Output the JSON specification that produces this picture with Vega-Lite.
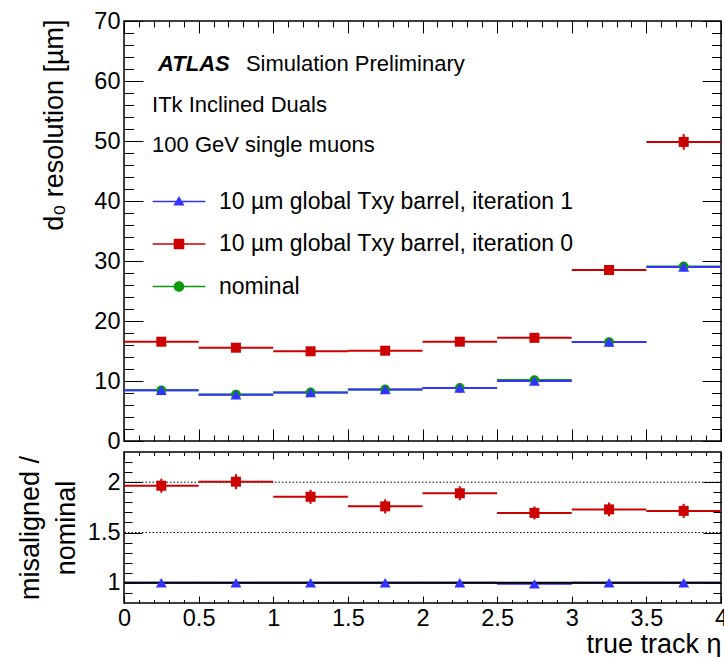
{
  "$schema": "https://vega.github.io/schema/vega-lite/v6.json",
  "background": "white",
  "padding": {"left": 15, "top": 8, "right": 0, "bottom": 0},
  "spacing": 11,
  "bounds": "flush",
  "datasets": {
    "top": [
      {"series": "nominal", "lo_eta": 0, "hi_eta": 0.5, "eta": 0.25, "value": 8.45, "elo": 8.3, "ehi": 8.6},
      {"series": "nominal", "lo_eta": 0.5, "hi_eta": 1, "eta": 0.75, "value": 7.75, "elo": 7.6, "ehi": 7.9},
      {"series": "nominal", "lo_eta": 1, "hi_eta": 1.5, "eta": 1.25, "value": 8.1, "elo": 7.95, "ehi": 8.25},
      {"series": "nominal", "lo_eta": 1.5, "hi_eta": 2, "eta": 1.75, "value": 8.6, "elo": 8.45, "ehi": 8.75},
      {"series": "nominal", "lo_eta": 2, "hi_eta": 2.5, "eta": 2.25, "value": 8.85, "elo": 8.7, "ehi": 9.0},
      {"series": "nominal", "lo_eta": 2.5, "hi_eta": 3, "eta": 2.75, "value": 10.15, "elo": 10.0, "ehi": 10.3},
      {"series": "nominal", "lo_eta": 3, "hi_eta": 3.5, "eta": 3.25, "value": 16.5, "elo": 16.3, "ehi": 16.7},
      {"series": "nominal", "lo_eta": 3.5, "hi_eta": 4, "eta": 3.75, "value": 29.1, "elo": 28.6, "ehi": 29.6},
      {"series": "10 µm global Txy barrel, iteration 1", "lo_eta": 0, "hi_eta": 0.5, "eta": 0.25, "value": 8.45, "elo": 8.3, "ehi": 8.6},
      {"series": "10 µm global Txy barrel, iteration 1", "lo_eta": 0.5, "hi_eta": 1, "eta": 0.75, "value": 7.72, "elo": 7.57, "ehi": 7.87},
      {"series": "10 µm global Txy barrel, iteration 1", "lo_eta": 1, "hi_eta": 1.5, "eta": 1.25, "value": 8.1, "elo": 7.95, "ehi": 8.25},
      {"series": "10 µm global Txy barrel, iteration 1", "lo_eta": 1.5, "hi_eta": 2, "eta": 1.75, "value": 8.57, "elo": 8.42, "ehi": 8.72},
      {"series": "10 µm global Txy barrel, iteration 1", "lo_eta": 2, "hi_eta": 2.5, "eta": 2.25, "value": 8.83, "elo": 8.68, "ehi": 8.98},
      {"series": "10 µm global Txy barrel, iteration 1", "lo_eta": 2.5, "hi_eta": 3, "eta": 2.75, "value": 10.0, "elo": 9.85, "ehi": 10.15},
      {"series": "10 µm global Txy barrel, iteration 1", "lo_eta": 3, "hi_eta": 3.5, "eta": 3.25, "value": 16.5, "elo": 16.3, "ehi": 16.7},
      {"series": "10 µm global Txy barrel, iteration 1", "lo_eta": 3.5, "hi_eta": 4, "eta": 3.75, "value": 29.0, "elo": 28.5, "ehi": 29.5},
      {"series": "10 µm global Txy barrel, iteration 0", "lo_eta": 0, "hi_eta": 0.5, "eta": 0.25, "value": 16.55, "elo": 16.15, "ehi": 16.95},
      {"series": "10 µm global Txy barrel, iteration 0", "lo_eta": 0.5, "hi_eta": 1, "eta": 0.75, "value": 15.55, "elo": 15.15, "ehi": 15.95},
      {"series": "10 µm global Txy barrel, iteration 0", "lo_eta": 1, "hi_eta": 1.5, "eta": 1.25, "value": 14.95, "elo": 14.55, "ehi": 15.35},
      {"series": "10 µm global Txy barrel, iteration 0", "lo_eta": 1.5, "hi_eta": 2, "eta": 1.75, "value": 15.05, "elo": 14.65, "ehi": 15.45},
      {"series": "10 µm global Txy barrel, iteration 0", "lo_eta": 2, "hi_eta": 2.5, "eta": 2.25, "value": 16.55, "elo": 16.15, "ehi": 16.95},
      {"series": "10 µm global Txy barrel, iteration 0", "lo_eta": 2.5, "hi_eta": 3, "eta": 2.75, "value": 17.2, "elo": 16.8, "ehi": 17.6},
      {"series": "10 µm global Txy barrel, iteration 0", "lo_eta": 3, "hi_eta": 3.5, "eta": 3.25, "value": 28.5, "elo": 27.9, "ehi": 29.1},
      {"series": "10 µm global Txy barrel, iteration 0", "lo_eta": 3.5, "hi_eta": 4, "eta": 3.75, "value": 49.85, "elo": 48.55, "ehi": 51.15}
    ],
    "ratio": [
      {"series": "10 µm global Txy barrel, iteration 1", "lo_eta": 0, "hi_eta": 0.5, "eta": 0.25, "value": 1.0, "elo": 0.98, "ehi": 1.02},
      {"series": "10 µm global Txy barrel, iteration 1", "lo_eta": 0.5, "hi_eta": 1, "eta": 0.75, "value": 1.0, "elo": 0.98, "ehi": 1.02},
      {"series": "10 µm global Txy barrel, iteration 1", "lo_eta": 1, "hi_eta": 1.5, "eta": 1.25, "value": 1.0, "elo": 0.98, "ehi": 1.02},
      {"series": "10 µm global Txy barrel, iteration 1", "lo_eta": 1.5, "hi_eta": 2, "eta": 1.75, "value": 1.0, "elo": 0.98, "ehi": 1.02},
      {"series": "10 µm global Txy barrel, iteration 1", "lo_eta": 2, "hi_eta": 2.5, "eta": 2.25, "value": 1.0, "elo": 0.98, "ehi": 1.02},
      {"series": "10 µm global Txy barrel, iteration 1", "lo_eta": 2.5, "hi_eta": 3, "eta": 2.75, "value": 0.99, "elo": 0.97, "ehi": 1.01},
      {"series": "10 µm global Txy barrel, iteration 1", "lo_eta": 3, "hi_eta": 3.5, "eta": 3.25, "value": 1.0, "elo": 0.98, "ehi": 1.02},
      {"series": "10 µm global Txy barrel, iteration 1", "lo_eta": 3.5, "hi_eta": 4, "eta": 3.75, "value": 1.0, "elo": 0.98, "ehi": 1.02},
      {"series": "10 µm global Txy barrel, iteration 0", "lo_eta": 0, "hi_eta": 0.5, "eta": 0.25, "value": 1.965, "elo": 1.895, "ehi": 2.035},
      {"series": "10 µm global Txy barrel, iteration 0", "lo_eta": 0.5, "hi_eta": 1, "eta": 0.75, "value": 2.005, "elo": 1.93, "ehi": 2.08},
      {"series": "10 µm global Txy barrel, iteration 0", "lo_eta": 1, "hi_eta": 1.5, "eta": 1.25, "value": 1.855, "elo": 1.785, "ehi": 1.925},
      {"series": "10 µm global Txy barrel, iteration 0", "lo_eta": 1.5, "hi_eta": 2, "eta": 1.75, "value": 1.76, "elo": 1.69, "ehi": 1.83},
      {"series": "10 µm global Txy barrel, iteration 0", "lo_eta": 2, "hi_eta": 2.5, "eta": 2.25, "value": 1.89, "elo": 1.82, "ehi": 1.96},
      {"series": "10 µm global Txy barrel, iteration 0", "lo_eta": 2.5, "hi_eta": 3, "eta": 2.75, "value": 1.695, "elo": 1.63, "ehi": 1.76},
      {"series": "10 µm global Txy barrel, iteration 0", "lo_eta": 3, "hi_eta": 3.5, "eta": 3.25, "value": 1.73, "elo": 1.662, "ehi": 1.798},
      {"series": "10 µm global Txy barrel, iteration 0", "lo_eta": 3.5, "hi_eta": 4, "eta": 3.75, "value": 1.715, "elo": 1.645, "ehi": 1.785}
    ]
  },
  "resolve": {"scale": {"color": "independent", "shape": "independent"}, "legend": {"color": "independent", "shape": "independent"}},
  "vconcat": [
    {
      "width": 597,
      "height": 420,
      "data": {"name": "top"},
      "resolve": {"axis": {"x": "independent", "y": "independent"}},
      "layer": [
        {
          "transform": [{"filter": "false"}],
          "mark": "rule",
          "encoding": {
            "x": {"field": "eta", "type": "quantitative", "scale": {"domain": [0, 4], "nice": false, "zero": false},
                  "axis": {"orient": "bottom", "values": [0, 0.5, 1, 1.5, 2, 2.5, 3, 3.5, 4], "labels": false, "tickSize": -12, "title": null}},
            "y": {"field": "value", "type": "quantitative", "scale": {"domain": [0, 70], "nice": false, "zero": false},
                  "axis": {"orient": "left", "values": [0, 10, 20, 30, 40, 50, 60, 70], "ticks": false, "labelPadding": 4,
                           "title": "d₀ resolution [µm]", "titleAnchor": "end", "titleAlign": "right", "titleX": -62, "titleY": -2, "titleBaseline": "alphabetic"}}
          }
        },
        {
          "transform": [{"filter": "false"}],
          "mark": "rule",
          "encoding": {
            "x": {"field": "eta", "type": "quantitative", "scale": {"domain": [0, 4], "nice": false, "zero": false},
                  "axis": {"orient": "bottom", "values": [0.1,0.2,0.3,0.4,0.6,0.7,0.8,0.9,1.1,1.2,1.3,1.4,1.6,1.7,1.8,1.9,2.1,2.2,2.3,2.4,2.6,2.7,2.8,2.9,3.1,3.2,3.3,3.4,3.6,3.7,3.8,3.9], "labels": false, "tickSize": -6, "title": null}},
            "y": {"field": "value", "type": "quantitative", "scale": {"domain": [0, 70], "nice": false, "zero": false},
                  "axis": {"orient": "left", "values": [0, 10, 20, 30, 40, 50, 60, 70], "labels": false, "tickSize": -19, "title": null}}
          }
        },
        {
          "transform": [{"filter": "false"}],
          "mark": "rule",
          "encoding": {
            "x": {"field": "eta", "type": "quantitative", "scale": {"domain": [0, 4], "nice": false, "zero": false},
                  "axis": {"orient": "top", "values": [0, 0.5, 1, 1.5, 2, 2.5, 3, 3.5, 4], "labels": false, "tickSize": -12, "title": null}},
            "y": {"field": "value", "type": "quantitative", "scale": {"domain": [0, 70], "nice": false, "zero": false},
                  "axis": {"orient": "left", "values": [2,4,6,8,12,14,16,18,22,24,26,28,32,34,36,38,42,44,46,48,52,54,56,58,62,64,66,68], "labels": false, "tickSize": -9.5, "title": null}}
          }
        },
        {
          "transform": [{"filter": "false"}],
          "mark": "rule",
          "encoding": {
            "x": {"field": "eta", "type": "quantitative", "scale": {"domain": [0, 4], "nice": false, "zero": false},
                  "axis": {"orient": "top", "values": [0.1,0.2,0.3,0.4,0.6,0.7,0.8,0.9,1.1,1.2,1.3,1.4,1.6,1.7,1.8,1.9,2.1,2.2,2.3,2.4,2.6,2.7,2.8,2.9,3.1,3.2,3.3,3.4,3.6,3.7,3.8,3.9], "labels": false, "tickSize": -6, "title": null}},
            "y": {"field": "value", "type": "quantitative", "scale": {"domain": [0, 70], "nice": false, "zero": false},
                  "axis": {"orient": "right", "values": [0, 10, 20, 30, 40, 50, 60, 70], "labels": false, "tickSize": -19, "title": null}}
          }
        },
        {
          "transform": [{"filter": "false"}],
          "mark": "rule",
          "encoding": {
            "x": {"field": "eta", "type": "quantitative", "scale": {"domain": [0, 4], "nice": false, "zero": false}, "axis": null},
            "y": {"field": "value", "type": "quantitative", "scale": {"domain": [0, 70], "nice": false, "zero": false},
                  "axis": {"orient": "right", "values": [2,4,6,8,12,14,16,18,22,24,26,28,32,34,36,38,42,44,46,48,52,54,56,58,62,64,66,68], "labels": false, "tickSize": -9.5, "title": null}}
          }
        },
        {
          "transform": [{"filter": "false"}],
          "mark": {"type": "point", "filled": true},
          "encoding": {
            "color": {"field": "series", "type": "nominal",
                      "scale": {"domain": ["10 µm global Txy barrel, iteration 1", "10 µm global Txy barrel, iteration 0", "nominal"], "range": ["#3333ff", "#cc0000", "#0a9a0a"]},
                      "legend": {"orient": "none", "legendX": 43.5, "legendY": 169, "title": null, "labelFontSize": 23, "labelFont": "Liberation Sans", "labelColor": "black", "symbolSize": 174, "labelOffset": 28.5, "rowPadding": 18.5, "padding": 0, "symbolStrokeWidth": 0, "symbolOpacity": 1, "direction": "vertical", "labelLimit": 600}},
            "shape": {"field": "series", "type": "nominal",
                      "scale": {"domain": ["10 µm global Txy barrel, iteration 1", "10 µm global Txy barrel, iteration 0", "nominal"],
                                "range": ["M-4,-0.13H4V0.13H-4ZM0,-0.85L0.85,0.6H-0.85Z", "M-4,-0.13H4V0.13H-4ZM-0.8,-0.8H0.8V0.8H-0.8Z", "M-4,-0.13H4V0.13H-4ZM0.8,0A0.8,0.8 0 1,1 -0.8,0A0.8,0.8 0 1,1 0.8,0Z"]},
                      "legend": {"orient": "none", "legendX": 43.5, "legendY": 169, "title": null, "labelFontSize": 23, "labelFont": "Liberation Sans", "labelColor": "black", "symbolSize": 174, "labelOffset": 28.5, "rowPadding": 18.5, "padding": 0, "symbolStrokeWidth": 0, "symbolOpacity": 1, "direction": "vertical", "labelLimit": 600}}
          }
        },
        {
          "mark": {"type": "rule", "strokeWidth": 2},
          "encoding": {
            "x": {"field": "lo_eta", "type": "quantitative", "axis": null},
            "x2": {"field": "hi_eta"},
            "y": {"field": "value", "type": "quantitative", "axis": null},
            "color": {"field": "series", "type": "nominal", "legend": null}
          }
        },
        {
          "mark": {"type": "rule", "strokeWidth": 2},
          "encoding": {
            "x": {"field": "eta", "type": "quantitative", "axis": null},
            "y": {"field": "elo", "type": "quantitative", "axis": null},
            "y2": {"field": "ehi"},
            "color": {"field": "series", "type": "nominal", "legend": null}
          }
        },
        {
          "mark": {"type": "point", "filled": true, "opacity": 1},
          "encoding": {
            "x": {"field": "eta", "type": "quantitative", "axis": null},
            "y": {"field": "value", "type": "quantitative", "axis": null},
            "color": {"field": "series", "type": "nominal", "legend": null},
            "shape": {"condition": [{"test": "datum.series === 'nominal'", "value": "circle"}, {"test": "indexof(datum.series, 'iteration 0') >= 0", "value": "square"}], "value": "triangle-up"},
            "size": {"condition": [{"test": "datum.series === 'nominal'", "value": 95}, {"test": "indexof(datum.series, 'iteration 0') >= 0", "value": 100}], "value": 120}
          }
        },
        {
          "data": {"values": [{}]},
          "mark": {"type": "text", "font": "Liberation Sans", "fontSize": 22, "fontStyle": "italic", "fontWeight": "bold", "align": "left", "baseline": "alphabetic", "color": "black"},
          "encoding": {"x": {"datum": 0.228, "type": "quantitative", "axis": null}, "y": {"datum": 61.7, "type": "quantitative", "axis": null}, "text": {"value": "ATLAS"}}
        },
        {
          "data": {"values": [{}]},
          "mark": {"type": "text", "font": "Liberation Sans", "fontSize": 22, "align": "left", "baseline": "alphabetic", "color": "black"},
          "encoding": {"x": {"datum": 0.817, "type": "quantitative", "axis": null}, "y": {"datum": 61.7, "type": "quantitative", "axis": null}, "text": {"value": "Simulation Preliminary"}}
        },
        {
          "data": {"values": [{}]},
          "mark": {"type": "text", "font": "Liberation Sans", "fontSize": 22, "align": "left", "baseline": "alphabetic", "color": "black"},
          "encoding": {"x": {"datum": 0.188, "type": "quantitative", "axis": null}, "y": {"datum": 54.9, "type": "quantitative", "axis": null}, "text": {"value": "ITk Inclined Duals"}}
        },
        {
          "data": {"values": [{}]},
          "mark": {"type": "text", "font": "Liberation Sans", "fontSize": 22, "align": "left", "baseline": "alphabetic", "color": "black"},
          "encoding": {"x": {"datum": 0.188, "type": "quantitative", "axis": null}, "y": {"datum": 48.2, "type": "quantitative", "axis": null}, "text": {"value": "100 GeV single muons"}}
        }
      ]
    },
    {
      "width": 597,
      "height": 151,
      "data": {"name": "ratio"},
      "resolve": {"axis": {"x": "independent", "y": "independent"}},
      "layer": [
        {
          "transform": [{"filter": "false"}],
          "mark": "rule",
          "encoding": {
            "x": {"field": "eta", "type": "quantitative", "scale": {"domain": [0, 4], "nice": false, "zero": false},
                  "axis": {"orient": "bottom", "values": [0, 0.5, 1, 1.5, 2, 2.5, 3, 3.5, 4], "labelExpr": "'' + datum.value", "ticks": false, "labelPadding": 3,
                           "title": "true track η", "titleAnchor": "end", "titleAlign": "right", "titleX": 597, "titleY": 49, "titleBaseline": "alphabetic"}},
            "y": {"field": "value", "type": "quantitative", "scale": {"domain": [0.8, 2.3], "nice": false, "zero": false},
                  "axis": {"orient": "left", "values": [1, 1.5, 2], "labelExpr": "'' + datum.value", "ticks": false, "labelPadding": 4,
                           "title": ["misaligned /", "nominal"], "titleX": -86, "titleBaseline": "alphabetic", "titleLineHeight": 36}}
          }
        },
        {
          "transform": [{"filter": "false"}],
          "mark": "rule",
          "encoding": {
            "x": {"field": "eta", "type": "quantitative", "scale": {"domain": [0, 4], "nice": false, "zero": false},
                  "axis": {"orient": "bottom", "values": [0, 0.5, 1, 1.5, 2, 2.5, 3, 3.5, 4], "labels": false, "tickSize": -7, "title": null}},
            "y": {"field": "value", "type": "quantitative", "scale": {"domain": [0.8, 2.3], "nice": false, "zero": false},
                  "axis": {"orient": "left", "values": [1, 1.5, 2], "labels": false, "tickSize": -18, "title": null}}
          }
        },
        {
          "transform": [{"filter": "false"}],
          "mark": "rule",
          "encoding": {
            "x": {"field": "eta", "type": "quantitative", "scale": {"domain": [0, 4], "nice": false, "zero": false},
                  "axis": {"orient": "bottom", "values": [0.1,0.2,0.3,0.4,0.6,0.7,0.8,0.9,1.1,1.2,1.3,1.4,1.6,1.7,1.8,1.9,2.1,2.2,2.3,2.4,2.6,2.7,2.8,2.9,3.1,3.2,3.3,3.4,3.6,3.7,3.8,3.9], "labels": false, "tickSize": -3.5, "title": null}},
            "y": {"field": "value", "type": "quantitative", "scale": {"domain": [0.8, 2.3], "nice": false, "zero": false},
                  "axis": {"orient": "left", "values": [0.9,1.1,1.2,1.3,1.4,1.6,1.7,1.8,1.9,2.1,2.2], "labels": false, "tickSize": -8, "title": null}}
          }
        },
        {
          "transform": [{"filter": "false"}],
          "mark": "rule",
          "encoding": {
            "x": {"field": "eta", "type": "quantitative", "scale": {"domain": [0, 4], "nice": false, "zero": false},
                  "axis": {"orient": "top", "values": [0, 0.5, 1, 1.5, 2, 2.5, 3, 3.5, 4], "labels": false, "tickSize": -7, "title": null}},
            "y": {"field": "value", "type": "quantitative", "scale": {"domain": [0.8, 2.3], "nice": false, "zero": false},
                  "axis": {"orient": "right", "values": [1, 1.5, 2], "labels": false, "tickSize": -18, "title": null}}
          }
        },
        {
          "transform": [{"filter": "false"}],
          "mark": "rule",
          "encoding": {
            "x": {"field": "eta", "type": "quantitative", "scale": {"domain": [0, 4], "nice": false, "zero": false},
                  "axis": {"orient": "top", "values": [0.1,0.2,0.3,0.4,0.6,0.7,0.8,0.9,1.1,1.2,1.3,1.4,1.6,1.7,1.8,1.9,2.1,2.2,2.3,2.4,2.6,2.7,2.8,2.9,3.1,3.2,3.3,3.4,3.6,3.7,3.8,3.9], "labels": false, "tickSize": -3.5, "title": null}},
            "y": {"field": "value", "type": "quantitative", "scale": {"domain": [0.8, 2.3], "nice": false, "zero": false},
                  "axis": {"orient": "right", "values": [0.9,1.1,1.2,1.3,1.4,1.6,1.7,1.8,1.9,2.1,2.2], "labels": false, "tickSize": -8, "title": null}}
          }
        },
        {
          "data": {"values": [{}]},
          "mark": {"type": "rule", "strokeDash": [1.5, 2], "strokeWidth": 1, "color": "black"},
          "encoding": {"y": {"datum": 2, "type": "quantitative", "axis": null}}
        },
        {
          "data": {"values": [{}]},
          "mark": {"type": "rule", "strokeDash": [1.5, 2], "strokeWidth": 1, "color": "black"},
          "encoding": {"y": {"datum": 1.5, "type": "quantitative", "axis": null}}
        },
        {
          "mark": {"type": "rule", "strokeWidth": 2},
          "encoding": {
            "x": {"field": "lo_eta", "type": "quantitative", "axis": null},
            "x2": {"field": "hi_eta"},
            "y": {"field": "value", "type": "quantitative", "axis": null},
            "color": {"field": "series", "type": "nominal", "legend": null,
                      "scale": {"domain": ["10 µm global Txy barrel, iteration 1", "10 µm global Txy barrel, iteration 0", "nominal"], "range": ["#3333ff", "#cc0000", "#0a9a0a"]}}
          }
        },
        {
          "data": {"values": [{}]},
          "mark": {"type": "rule", "strokeWidth": 2, "color": "black"},
          "encoding": {"y": {"datum": 1, "type": "quantitative", "axis": null}}
        },
        {
          "mark": {"type": "rule", "strokeWidth": 2},
          "encoding": {
            "x": {"field": "eta", "type": "quantitative", "axis": null},
            "y": {"field": "elo", "type": "quantitative", "axis": null},
            "y2": {"field": "ehi"},
            "color": {"field": "series", "type": "nominal", "legend": null}
          }
        },
        {
          "mark": {"type": "point", "filled": true, "opacity": 1},
          "encoding": {
            "x": {"field": "eta", "type": "quantitative", "axis": null},
            "y": {"field": "value", "type": "quantitative", "axis": null},
            "color": {"field": "series", "type": "nominal", "legend": null},
            "shape": {"condition": [{"test": "indexof(datum.series, 'iteration 0') >= 0", "value": "square"}], "value": "triangle-up"},
            "size": {"condition": [{"test": "indexof(datum.series, 'iteration 0') >= 0", "value": 100}], "value": 120}
          }
        }
      ]
    }
  ],
  "config": {
    "view": {"stroke": "black", "strokeWidth": 1.5},
    "axis": {"grid": false, "domain": false, "labelFont": "Liberation Sans", "titleFont": "Liberation Sans", "labelColor": "black", "titleColor": "black", "tickColor": "black", "tickWidth": 1, "labelFontSize": 23.5, "titleFontSize": 27, "titleFontWeight": "normal", "labelFlush": false, "labelOverlap": false},
    "text": {"font": "Liberation Sans"}
  }
}
